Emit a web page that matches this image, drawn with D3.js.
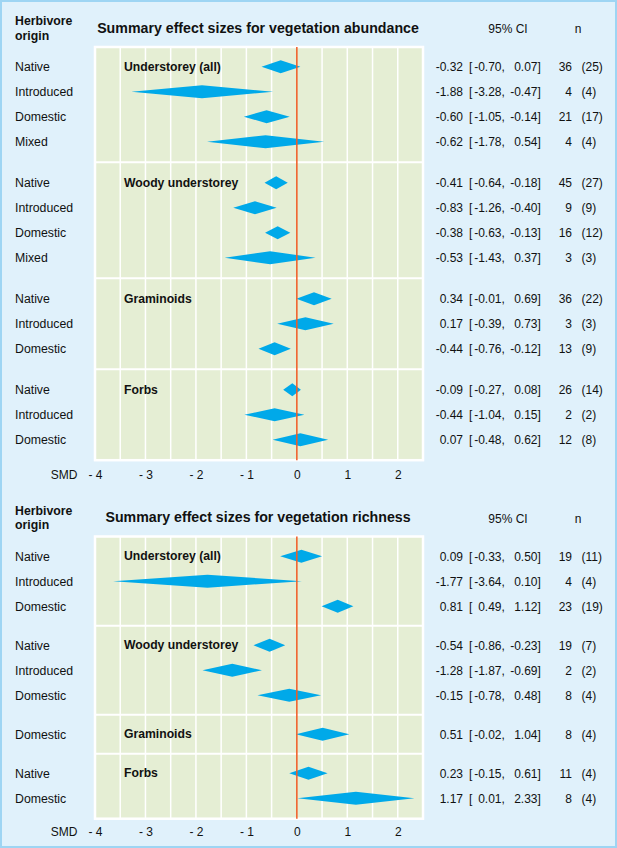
<!DOCTYPE html>
<html><head><meta charset="utf-8">
<script src="https://cdn.jsdelivr.net/npm/d3@7"></script>
<style>body{margin:0;background:#fff}svg{display:block}text{font-family:"Liberation Sans",Arial,sans-serif;fill:#111}</style>
</head><body><div id="chart"></div>
<script>
// ---------- DATA ----------
const groupNames = ["Understorey (all)", "Woody understorey", "Graminoids", "Forbs"];
const xTicks = [-4, -3, -2, -1, 0, 1, 2];

// Panel 1: vegetation abundance
const abTitle = "Summary effect sizes for vegetation abundance";
const abOrigin = ["Native","Introduced","Domestic","Mixed","Native","Introduced","Domestic","Mixed","Native","Introduced","Domestic","Native","Introduced","Domestic"];
const abGroup = [0,0,0,0,1,1,1,1,2,2,2,3,3,3];
const abEst = [-0.32,-1.88,-0.60,-0.62,-0.41,-0.83,-0.38,-0.53,0.34,0.17,-0.44,-0.09,-0.44,0.07];
const abLo  = [-0.70,-3.28,-1.05,-1.78,-0.64,-1.26,-0.63,-1.43,-0.01,-0.39,-0.76,-0.27,-1.04,-0.48];
const abHi  = [0.07,-0.47,-0.14,0.54,-0.18,-0.40,-0.13,0.37,0.69,0.73,-0.12,0.08,0.15,0.62];
const abN   = [36,4,21,4,45,9,16,3,36,3,13,26,2,12];
const abStudies = [25,4,17,4,27,9,12,3,22,3,9,14,2,8];

// Panel 2: vegetation richness
const riTitle = "Summary effect sizes for vegetation richness";
const riOrigin = ["Native","Introduced","Domestic","Native","Introduced","Domestic","Domestic","Native","Domestic"];
const riGroup = [0,0,0,1,1,1,2,3,3];
const riEst = [0.09,-1.77,0.81,-0.54,-1.28,-0.15,0.51,0.23,1.17];
const riLo  = [-0.33,-3.64,0.49,-0.86,-1.87,-0.78,-0.02,-0.15,0.01];
const riHi  = [0.50,0.10,1.12,-0.23,-0.69,0.48,1.04,0.61,2.33];
const riN   = [19,4,23,19,2,8,8,11,8];
const riStudies = [11,4,19,7,2,4,4,4,4];

// ---------- LAYOUT ----------
const W = 617, H = 848;
const C = {bg:"#e0f1fb", border:"#9ed5f3", panel:"#e5eed4", grid:"#ffffff", diamond:"#00a9e9", zero:"#f15a24"};
const svg = d3.select("#chart").append("svg").attr("width", W).attr("height", H);
svg.append("rect").attr("x",1).attr("y",1).attr("width",W-2).attr("height",H-2)
  .attr("fill",C.bg).attr("stroke",C.border).attr("stroke-width",2);

const x = d3.scaleLinear().domain([-4, 2.5]).range([95, 423]);
const fmt = d3.format(".2f");
const f2 = v => fmt(v).replace("−","-");

function panel(cfg) {
  const {off, title, origin, group, est, lo, hi, n, studies, gap, axisGap} = cfg;
  const g = svg.append("g").attr("transform", `translate(0,${off})`);
  const rows = origin.map((o,i)=>({o, g:group[i], est:est[i], lo:lo[i], hi:hi[i], n:n[i], s:studies[i], i}));
  const slot = d3.scaleLinear().domain([0,1]).range([66.7, 91.7]);
  rows.forEach(r => r.y = slot(r.i + gap*r.g));
  const top = 47, bottom = rows[rows.length-1].y + 20.5;

  // headers
  g.append("text").attr("x",15).attr("y",25).attr("font-size",12.3).attr("font-weight","bold").text("Herbivore");
  g.append("text").attr("x",15).attr("y",39.5).attr("font-size",12.3).attr("font-weight","bold").text("origin");
  g.append("text").attr("x",258).attr("y",32.7).attr("text-anchor","middle").attr("font-size",14.2).attr("font-weight","bold").text(title);
  g.append("text").attr("x",508).attr("y",33.3).attr("text-anchor","middle").attr("font-size",12).text("95% CI");
  g.append("text").attr("x",578).attr("y",33.3).attr("text-anchor","middle").attr("font-size",12).text("n");

  // panel background
  g.append("rect").attr("x",x(-4)).attr("y",top).attr("width",x(2.5)-x(-4)).attr("height",bottom-top)
    .attr("fill",C.panel).attr("stroke",C.grid).attr("stroke-width",2.5);
  const grid = d3.range(-3.5, 2.5, 0.5).filter(v => Math.abs(v) > 1e-9);
  g.selectAll("line.grid").data(grid).join("line").attr("class","grid")
    .attr("x1",d=>x(d)).attr("x2",d=>x(d)).attr("y1",top).attr("y2",bottom)
    .attr("stroke",C.grid).attr("stroke-width",1.5);
  // group separators
  const groups = d3.groups(rows, r=>r.g).map(([k,v])=>({k, first:v[0], last:v[v.length-1]}));
  const seps = groups.slice(1).map((gr,j)=> (groups[j].last.y + gr.first.y)/2);
  g.selectAll("line.sep").data(seps).join("line").attr("class","sep")
    .attr("x1",x(-4)).attr("x2",x(2.5)).attr("y1",d=>d).attr("y2",d=>d)
    .attr("stroke",C.grid).attr("stroke-width",2);

  // group labels
  g.selectAll("text.grp").data(groups).join("text").attr("class","grp")
    .attr("x",124).attr("y",d=>d.first.y+4.2).attr("font-size",12.2).attr("font-weight","bold")
    .text(d=>groupNames[d.k]);

  // diamonds
  const h = 6.5;
  g.selectAll("path.dia").data(rows).join("path").attr("class","dia")
    .attr("d", r => `M${x(r.lo)},${r.y}L${x(r.est)},${r.y-h}L${x(r.hi)},${r.y}L${x(r.est)},${r.y+h}Z`)
    .attr("fill",C.diamond);

  // zero line
  g.append("line").attr("x1",x(0)).attr("x2",x(0)).attr("y1",top).attr("y2",bottom)
    .attr("stroke",C.zero).attr("stroke-width",1.5);

  // row labels and numbers
  const t = (cls, xp, anchor, fn, fs=12) => g.selectAll("text."+cls).data(rows).join("text").attr("class",cls)
    .attr("x",xp).attr("y",r=>r.y+4.3).attr("font-size",fs).attr("text-anchor",anchor).text(fn);
  t("orig", 15, "start", r=>r.o, 12.3);
  t("est", 463, "end", r=>f2(r.est));
  t("lb", 469, "start", ()=>"[");
  t("lo", 501.5, "end", r=>f2(r.lo));
  t("cm", 501.5, "start", ()=>",");
  t("hi", 537.5, "end", r=>f2(r.hi));
  t("rb", 537.5, "start", ()=>"]");
  t("nn", 572, "end", r=>r.n);
  t("ss", 581.5, "start", r=>`(${r.s})`);

  // axis
  const ax = g.append("g").attr("transform",`translate(0,${bottom+axisGap})`)
    .call(d3.axisBottom(x).tickValues(xTicks).tickSize(0).tickPadding(0)
      .tickFormat(d => d < 0 ? "- " + Math.abs(d) : String(d)));
  ax.select(".domain").remove();
  ax.selectAll("text").attr("font-size",12).attr("dy","0.35em").attr("fill","#111")
    .style("font-family",'"Liberation Sans",Arial,sans-serif');
  g.append("text").attr("x",64).attr("y",bottom+axisGap).attr("dy","0.35em").attr("text-anchor","middle").attr("font-size",12).text("SMD");
}

panel({off:0, title:abTitle, origin:abOrigin, group:abGroup, est:abEst, lo:abLo, hi:abHi, n:abN, studies:abStudies, gap:0.64, axisGap:15});
panel({off:489.5, title:riTitle, origin:riOrigin, group:riGroup, est:riEst, lo:riLo, hi:riHi, n:riN, studies:riStudies, gap:0.56, axisGap:13.5});
</script></body></html>
